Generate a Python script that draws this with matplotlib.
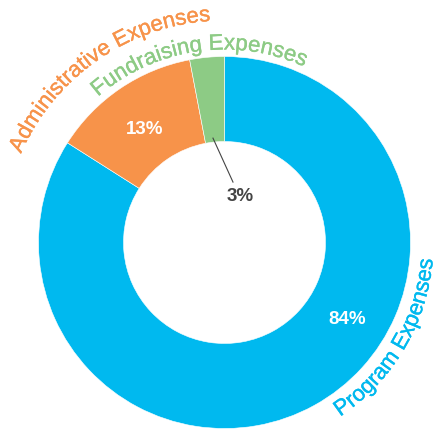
import numpy as np
import matplotlib.pyplot as plt
import matplotlib.patheffects as pe
from matplotlib.font_manager import FontProperties, findfont
from matplotlib.ft2font import FT2Font

categories = ['Program Expenses', 'Administrative Expenses', 'Fundraising Expenses']
shares = [84, 13, 3]
pct_labels = ['84%', '13%', '3%']
colors = ['#00B9EF', '#F7934A', '#8DCB85']

plt.rcParams['font.family'] = ['Liberation Sans', 'DejaVu Sans']

fig = plt.figure(figsize=(4.42, 4.29), dpi=100)
ax = fig.add_axes([0, 0, 1, 1])

# donut, in pixel-like data units
cx, cy, R, W = 224.5, 186.5, 186, 85
ax.pie(shares, colors=colors, startangle=90, counterclock=False,
       radius=R, center=(cx, cy),
       wedgeprops=dict(width=W, edgecolor='white', linewidth=0.4))
ax.set_xlim(0, 442)
ax.set_ylim(0, 429)
ax.set_aspect('auto')
ax.axis('off')

fsize = 16
fp = FontProperties(family='Liberation Sans', size=fsize)
ft = FT2Font(findfont(fp))
ft.set_size(fsize, 100)


def arc_text(s, theta_c, r, color, top=True):
    adv = [ft.load_char(ord(c)).linearHoriAdvance / 65536 for c in s]
    total = sum(adv)
    pos = 0
    for c, a in zip(s, adv):
        sc = pos + a / 2 - total / 2
        pos += a
        if top:
            th = np.radians(theta_c) - sc / r
            rot = np.degrees(th) - 90
        else:
            th = np.radians(theta_c) + sc / r
            rot = np.degrees(th) + 90
        ax.text(cx + r * np.cos(th), cy + r * np.sin(th), c, color=color,
                fontproperties=fp, ha='center', va='baseline',
                rotation=rot, rotation_mode='anchor',
                path_effects=[pe.withStroke(linewidth=0.25, foreground=color)])


# category labels along the ring
arc_text(categories[0], -30.5, 209, colors[0], top=False)
arc_text(categories[1], 125, 222, colors[1])
arc_text(categories[2], 98.3, 193, colors[2])


def polar(a, r):
    return cx + r * np.cos(np.radians(a)), cy + r * np.sin(np.radians(a))


# percent labels
x, y = polar(-32.3, 145)
ax.text(x, y, pct_labels[0], color='white', fontsize=13.5, fontweight='bold',
        ha='center', va='center')
x, y = polar(125.2, 138)
ax.text(x, y, pct_labels[1], color='white', fontsize=13.5, fontweight='bold',
        ha='center', va='center')
x0, y0 = polar(96.3, 105)
x1, y1 = polar(82, 61)
ax.plot([x0, x1], [y0, y1], color='#444444', lw=0.8)
x, y = polar(71.6, 49)
ax.text(x, y, pct_labels[2], color='#444444', fontsize=13.5, fontweight='bold',
        ha='center', va='center')

fig.savefig('out.png', dpi=100)
